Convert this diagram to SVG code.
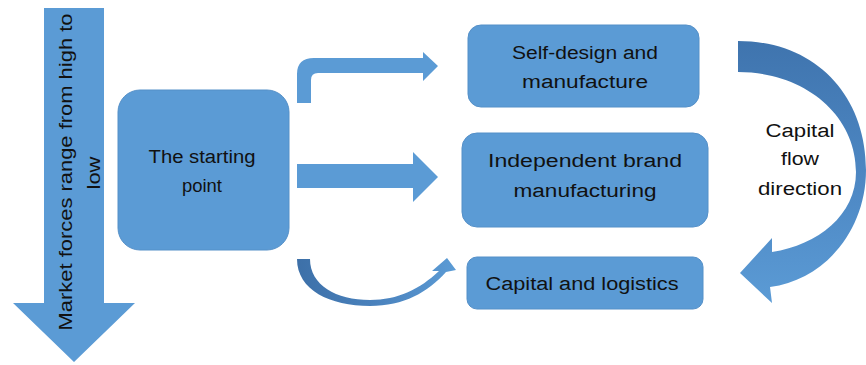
<svg xmlns="http://www.w3.org/2000/svg" width="866" height="365" viewBox="0 0 866 365">
<defs>
<style>
.box{fill:#5b9bd5;stroke:#5590c8;stroke-width:1}
.arr{fill:#5b9bd5}
.t{font-family:"Liberation Sans",Arial,sans-serif;font-size:18px;fill:#111;text-anchor:middle}
</style>
<linearGradient id="gR" x1="0" y1="0" x2="0" y2="1">
<stop offset="0" stop-color="#3f74ae"/>
<stop offset="0.6" stop-color="#4f8ac6"/>
<stop offset="1" stop-color="#5b9bd5"/>
</linearGradient>
<linearGradient id="gB" x1="0" y1="0" x2="1" y2="0">
<stop offset="0" stop-color="#3d70a8"/>
<stop offset="0.5" stop-color="#4a82bd"/>
<stop offset="1" stop-color="#5b9bd5"/>
</linearGradient>
</defs>
<rect width="866" height="365" fill="#fff"/>
<g id="market-arrow">
<path class="arr" d="M44,8 L104,8 L104,303 L135,303 L74,362 L13,303 L44,303 Z"/>
<text class="t" transform="translate(72,172) rotate(-90)" textLength="317" lengthAdjust="spacingAndGlyphs">Market forces range from high to</text>
<text class="t" transform="translate(100,173) rotate(-90)" textLength="33" lengthAdjust="spacingAndGlyphs">low</text>
</g>
<g id="start">
<rect class="box" x="118" y="90" width="171" height="160" rx="22"/>
<text class="t" x="202" y="163" textLength="107" lengthAdjust="spacingAndGlyphs">The starting</text>
<text class="t" x="202" y="192" textLength="40" lengthAdjust="spacingAndGlyphs">point</text>
</g>
<g id="self-design">
<rect class="box" x="468" y="25" width="231" height="82" rx="13"/>
<text class="t" x="585" y="59" textLength="146" lengthAdjust="spacingAndGlyphs">Self-design and</text>
<text class="t" x="585" y="88" textLength="126" lengthAdjust="spacingAndGlyphs">manufacture</text>
</g>
<g id="independent">
<rect class="box" x="462" y="133" width="246" height="94" rx="15"/>
<text class="t" x="585" y="167" textLength="194" lengthAdjust="spacingAndGlyphs">Independent brand</text>
<text class="t" x="585" y="197" textLength="143" lengthAdjust="spacingAndGlyphs">manufacturing</text>
</g>
<g id="capital">
<rect class="box" x="467" y="257" width="236" height="52" rx="10"/>
<text class="t" x="582" y="290" textLength="193" lengthAdjust="spacingAndGlyphs">Capital and logistics</text>
</g>
<g id="connectors">
<path class="arr" d="M297,103 L297,74 Q297,58 314,58 L423,58 L423,52 L438,66 L423,81 L423,73 L318,73 Q311,73 311,80 L311,103 Z"/>
<path class="arr" d="M297,164 L413,164 L413,152 L438,177 L413,202 L413,188 L297,188 Z"/>
<path fill="url(#gB)" d="M297,259 C297,290 330,306 370,306 C404,306 428,292 446,272 L456,270 L447,258 L432,271 L439,271 C420,289 398,300 370,300 C336,300 310,285 310,259 Z"/>
<path fill="url(#gR)" d="M738,41 C815,41 866,95 866,170 C866,230 825,280 770,287 L772,303 L740,273 L772,238 L772,252 C818,245 856,215 856,172 C856,115 805,72 738,72 Z"/>
</g>
<g id="capital-flow-label">
<text class="t" x="800" y="137" textLength="69" lengthAdjust="spacingAndGlyphs">Capital</text>
<text class="t" x="800" y="165" textLength="38" lengthAdjust="spacingAndGlyphs">flow</text>
<text class="t" x="800" y="195" textLength="84" lengthAdjust="spacingAndGlyphs">direction</text>
</g>
</svg>
